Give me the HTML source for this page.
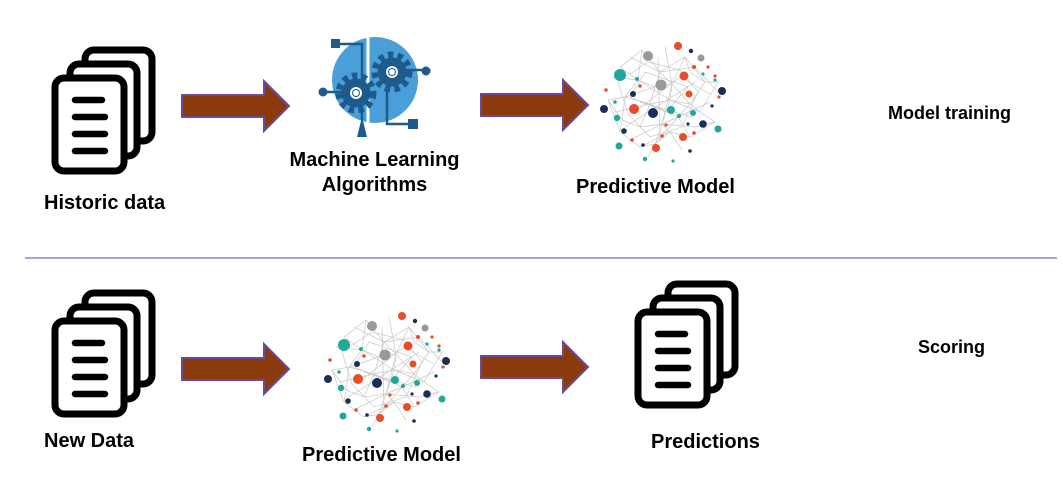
<!DOCTYPE html>
<html><head><meta charset="utf-8"><style>
html,body{margin:0;padding:0;background:#fff;}
body{width:1063px;height:489px;position:relative;overflow:hidden;font-family:"Liberation Sans",Arial,sans-serif;}
.t{position:absolute;font-weight:bold;color:#000;font-size:20px;white-space:nowrap;line-height:1;}
svg{position:absolute;left:0;top:0;}
</style></head><body>
<svg width="1063" height="489" viewBox="0 0 1063 489">
<defs>
<g id="doc" fill="#fff" stroke="#000" stroke-width="7" stroke-linejoin="round">
  <rect x="88" y="53" width="67" height="91" rx="9"/>
  <rect x="73" y="67" width="67" height="92" rx="9"/>
  <rect x="58" y="81" width="69" height="93" rx="9"/>
  <g stroke-width="6.5" stroke-linecap="round">
    <line x1="78" y1="103" x2="105" y2="103"/>
    <line x1="78" y1="120" x2="108" y2="120"/>
    <line x1="78" y1="137" x2="108" y2="137"/>
    <line x1="78" y1="154" x2="108" y2="154"/>
  </g>
</g>
<g id="net">
  <g stroke="#c8c8c8" stroke-width="0.7" fill="none">
    <path d="M20 25 L42 8 L60 30 L85 15 L105 40 L118 40 L100 70 L115 80 L90 95 L70 90 L40 105 L20 90 L8 58 L25 55 L50 62 L70 58 L90 62 L100 70"/>
    <path d="M20 25 L38 38 L55 45 L72 42 L85 15 M42 8 L38 38 L25 55 L22 78 L40 85 L62 82 L78 75 L90 95 M55 45 L50 62 L40 85 M72 42 L70 58 L62 82 L70 90 M105 40 L90 62 L78 75 L55 102 L40 105 M8 58 L22 78 L20 90 M60 30 L72 42 L90 62 M60 30 L55 45 M85 15 L90 30 L105 40 M30 15 L60 30 L95 25 L118 50 M12 35 L38 38 L70 58 L100 70 M25 55 L55 45 M15 70 L50 62 L78 75 L110 60 M30 98 L62 82 L95 85 L115 80 M48 115 L55 102 L70 90 L82 108 M65 5 L72 42 L62 82 L55 102 M35 70 L80 35 L110 52"/>
    <path d="M18 40 L48 20 L80 28 L98 50 L82 85 L50 95 L28 72 Z M45 30 L88 45 L66 70 L30 55 Z M40 60 L92 75 M58 15 L60 98 M25 85 L95 40"/>
  </g>
  <g>
    <circle cx="48" cy="14" r="5" fill="#999"/>
    <circle cx="78" cy="4" r="4" fill="#e84c2b"/>
    <circle cx="101" cy="16" r="3.5" fill="#999"/>
    <circle cx="91" cy="9" r="2.2" fill="#1a2f55"/>
    <circle cx="20" cy="33" r="6" fill="#20a89c"/>
    <circle cx="61" cy="43" r="5.5" fill="#999"/>
    <circle cx="84" cy="34" r="4.5" fill="#e84c2b"/>
    <circle cx="37" cy="37" r="2" fill="#20a89c"/>
    <circle cx="40" cy="44" r="1.8" fill="#e84c2b"/>
    <circle cx="94" cy="25" r="2" fill="#e84c2b"/>
    <circle cx="108" cy="25" r="1.6" fill="#e84c2b"/>
    <circle cx="103" cy="32" r="1.6" fill="#20a89c"/>
    <circle cx="115" cy="34" r="1.6" fill="#e84c2b"/>
    <circle cx="115" cy="38" r="1.6" fill="#20a89c"/>
    <circle cx="6" cy="48" r="1.8" fill="#e84c2b"/>
    <circle cx="33" cy="52" r="3" fill="#1a2f55"/>
    <circle cx="89" cy="52" r="3.5" fill="#e84c2b"/>
    <circle cx="122" cy="49" r="4" fill="#1a2f55"/>
    <circle cx="119" cy="55" r="1.6" fill="#e84c2b"/>
    <circle cx="15" cy="60" r="1.8" fill="#20a89c"/>
    <circle cx="4" cy="67" r="4" fill="#1a2f55"/>
    <circle cx="34" cy="67" r="5" fill="#e84c2b"/>
    <circle cx="53" cy="71" r="5" fill="#1a2f55"/>
    <circle cx="71" cy="68" r="4" fill="#20a89c"/>
    <circle cx="79" cy="74" r="2" fill="#20a89c"/>
    <circle cx="93" cy="71" r="3" fill="#20a89c"/>
    <circle cx="112" cy="64" r="1.6" fill="#1a2f55"/>
    <circle cx="17" cy="76" r="3.2" fill="#20a89c"/>
    <circle cx="103" cy="82" r="3.8" fill="#1a2f55"/>
    <circle cx="118" cy="87" r="3.5" fill="#20a89c"/>
    <circle cx="24" cy="89" r="2.8" fill="#1a2f55"/>
    <circle cx="88" cy="82" r="1.6" fill="#1a2f55"/>
    <circle cx="66" cy="83" r="1.6" fill="#e84c2b"/>
    <circle cx="32" cy="98" r="1.8" fill="#e84c2b"/>
    <circle cx="62" cy="94" r="1.8" fill="#e84c2b"/>
    <circle cx="83" cy="95" r="4" fill="#e84c2b"/>
    <circle cx="94" cy="91" r="1.8" fill="#e84c2b"/>
    <circle cx="19" cy="104" r="3.5" fill="#20a89c"/>
    <circle cx="43" cy="103" r="1.8" fill="#1a2f55"/>
    <circle cx="56" cy="106" r="4" fill="#e84c2b"/>
    <circle cx="90" cy="109" r="1.8" fill="#1a2f55"/>
    <circle cx="45" cy="117" r="2.2" fill="#20a89c"/>
    <circle cx="73" cy="119" r="1.6" fill="#20a89c"/>
  </g>
</g>
<g id="gear">
  <circle r="14.5" fill="#1d5a8e"/>
  <circle r="17" fill="none" stroke="#1d5a8e" stroke-width="7" stroke-dasharray="5.3 4.2"/>
  <circle r="6" fill="#fff"/>
  <circle r="4" fill="#1d5a8e"/>
  <circle r="3" fill="#fff"/>
</g>
<polygon id="arr" points="0,-11 82,-11 82,-25 107,0 82,25 82,11 0,11" fill="#8b3a0b" stroke="#6b4a9e" stroke-width="2"/>
</defs>

<use href="#doc" x="-3" y="-3"/>
<use href="#doc" x="-3" y="240"/>
<use href="#doc" x="580" y="231"/>

<use href="#arr" x="182" y="106"/>
<use href="#arr" x="481" y="105"/>
<use href="#arr" x="182" y="369"/>
<use href="#arr" x="481" y="367"/>

<use href="#net" x="600" y="42"/>
<use href="#net" x="324" y="312"/>

<g>
  <circle cx="375" cy="80" r="43" fill="#4a9fd8"/>
  <line x1="368" y1="37" x2="368" y2="123" stroke="#fff" stroke-width="3"/>
  <g stroke="#1d5a8e" stroke-width="2.5" fill="none">
    <polyline points="336,44 362,44 362,120"/>
    <polyline points="387,88 387,124 412,124"/>
    <line x1="323" y1="92" x2="345" y2="92"/>
    <line x1="402" y1="70" x2="425" y2="70"/>
  </g>
  <rect x="331" y="39" width="9" height="9" fill="#1d5a8e"/>
  <rect x="408" y="119" width="10" height="10" fill="#1d5a8e"/>
  <circle cx="323" cy="92" r="4.5" fill="#1d5a8e"/>
  <circle cx="426" cy="71" r="4.5" fill="#1d5a8e"/>
  <polygon points="362,117 367,137 357,137" fill="#1d5a8e"/>
  <use href="#gear" x="356" y="93"/>
  <use href="#gear" x="392" y="72"/>
</g>

<line x1="25" y1="258" x2="1057" y2="258" stroke="#8a5fd0" stroke-width="1.3"/>
</svg>

<div class="t" style="left:44px;top:193px;">Historic data</div>
<div class="t" style="left:281px;top:148px;width:187px;text-align:center;line-height:25px;">Machine Learning<br>Algorithms</div>
<div class="t" style="left:576px;top:177px;">Predictive Model</div>
<div class="t" style="left:888px;top:104px;font-size:18px;">Model training</div>
<div class="t" style="left:44px;top:431px;">New Data</div>
<div class="t" style="left:302px;top:445px;">Predictive Model</div>
<div class="t" style="left:651px;top:432px;">Predictions</div>
<div class="t" style="left:918px;top:338px;font-size:18px;">Scoring</div>
</body></html>
